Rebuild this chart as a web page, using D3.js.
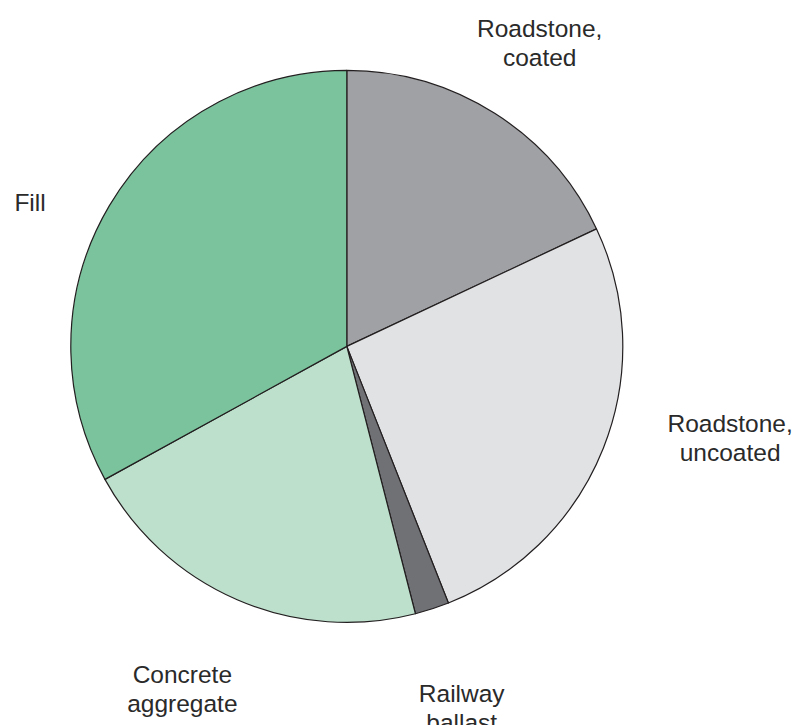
<!DOCTYPE html>
<html>
<head>
<meta charset="utf-8">
<script src="https://cdn.jsdelivr.net/npm/d3@7"></script>
<style>
  html, body { margin: 0; padding: 0; background: #ffffff; }
  svg { display: block; }
  text { font-family: "Liberation Sans", Arial, Helvetica, sans-serif; fill: #2a2a2a; }
</style>
</head>
<body>
<svg id="chart" width="796" height="725"></svg>
<script>
// Aggregate uses, share of total (%)
const categories = ["Roadstone, coated", "Roadstone, uncoated", "Railway ballast", "Concrete aggregate", "Fill"];
const shares = [18, 26, 2, 21, 33];
const colors = ["#a0a1a4", "#e1e2e4", "#707175", "#bde0cc", "#7ac39d"];
// Label lines for each category
const labelLines = [["Roadstone,", "coated"], ["Roadstone,", "uncoated"], ["Railway", "ballast"], ["Concrete", "aggregate"], ["Fill"]];

const svg = d3.select("#chart");
const cx = 346.8, cy = 346.4, radius = 276;

const data = categories.map((c, i) => ({ name: c, value: shares[i], color: colors[i], lines: labelLines[i] }));

const pie = d3.pie().value(d => d.value).sort(null);
const arcs = pie(data);
const arc = d3.arc().innerRadius(0).outerRadius(radius);

const g = svg.append("g").attr("transform", `translate(${cx},${cy})`);

g.selectAll("path.slice")
  .data(arcs)
  .join("path")
  .attr("class", "slice")
  .attr("d", arc)
  .attr("fill", d => d.data.color)
  .attr("stroke", "#231f20")
  .attr("stroke-width", 1.2)
  .attr("stroke-linejoin", "round");

// Label anchor for each slice: distance from centre and angle (degrees, clockwise from top)
const labelPolar = [[359, 32.5], [394.2, 103.5], [380.1, 162.4], [380.6, 205.6], [347.7, 294.35]];
const lineH = 29.5;

arcs.forEach((a, i) => {
  const [r, deg] = labelPolar[i];
  const ang = deg * Math.PI / 180;
  const x = Math.sin(ang) * r;
  const y = -Math.cos(ang) * r;
  const lines = a.data.lines;
  const t = g.append("text")
    .attr("text-anchor", "middle")
    .attr("font-size", 24.5)
    .attr("x", x)
    .attr("y", y);
  lines.forEach((ln, k) => {
    t.append("tspan")
      .attr("x", x)
      .attr("dy", k === 0 ? ((1 - lines.length) * lineH / 2 + 8) : lineH)
      .text(ln);
  });
});
</script>
</body>
</html>
